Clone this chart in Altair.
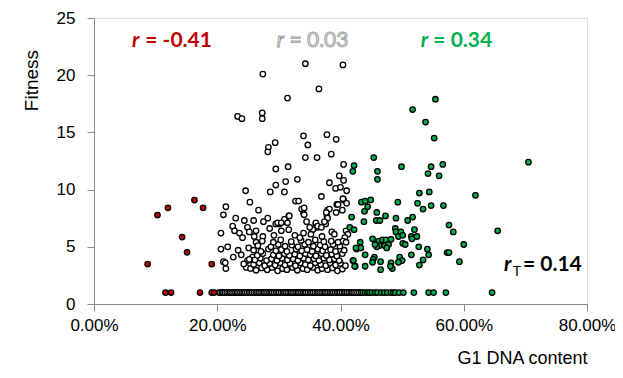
import altair as alt
import pandas as pd

FONT = "Lato"

# ---- data (x = G1 DNA content in %, y = fitness) ----
red_x = [10.3, 12.0, 16.3, 17.7, 14.3, 15.1, 8.7, 19.1, 11.6, 12.5, 17.2, 19.1, 19.5]
red_y = [7.77, 8.41, 9.08, 8.41, 5.85, 4.52, 3.49, 3.49, 1.0, 1.0, 1.0, 1.0, 1.0]

white_x = [
    34.3, 40.4, 27.4, 36.5, 31.4, 23.3, 24.0, 27.3, 27.3, 34.0, 37.8, 39.3, 34.7, 29.4, 28.3, 28.2, 38.5, 34.3, 36.2,
    29.5, 31.5, 33.0, 40.5, 39.8, 40.5, 29.5, 31.1, 30.9, 28.6, 38.2, 39.2, 40.0, 41.0, 24.6, 25.3, 26.7, 32.7, 33.2,
    33.7, 34.0, 34.1, 40.5, 41.0, 39.4, 37.9, 37.8, 39.3, 40.3, 21.4, 21.0, 23.0, 24.4, 25.9, 28.2, 27.5, 29.5, 30.1,
    31.1, 31.6, 34.5, 36.0, 37.6, 38.6, 36.3, 22.5, 22.8, 23.6, 24.1, 24.9, 25.2, 26.3, 26.0, 27.4, 26.3, 28.5, 30.4,
    31.6, 20.6, 20.6, 21.7, 23.4, 22.6, 21.0, 21.4, 21.3, 25.1, 25.7, 24.9, 24.7,
    36.9, 40.4, 39.6, 38.2, 37.7, 37.9, 37.4, 34.1, 30.9, 31.7, 29.8, 30.4, 31.4, 36.0, 36.3, 35.5, 35.0, 36.9, 40.9,
    41.2, 40.7, 40.4, 40.9,
    25.4, 26.3, 27.2, 28.1, 28.9, 29.8, 30.6, 31.3, 32.2, 33.0, 33.9, 34.6, 35.5, 36.3, 37.0, 37.9, 38.7, 39.5, 40.3,
    24.3, 25.9, 26.8, 27.7, 28.5, 29.4, 30.2, 31.0, 31.8, 32.7, 33.5, 34.3, 35.1, 35.9, 36.8, 37.6, 38.3, 39.2, 40.0, 40.8,
    25.2, 26.1, 27.0, 28.0, 28.8, 29.7, 30.5, 31.4, 32.3, 33.1, 34.0, 34.8, 35.7, 36.5, 37.3, 38.2, 39.0, 39.8,
    23.9, 26.5, 27.4, 29.1, 30.0, 30.9, 31.7, 32.6, 33.4, 34.3, 35.1, 36.0, 36.9, 37.7, 38.6, 39.4, 40.3,
    25.9, 27.1, 28.3, 29.5, 30.4, 31.3, 32.8, 33.7, 34.6, 35.4, 36.3, 37.1, 38.4, 39.2, 40.6,
    26.6, 28.7, 29.9, 31.0, 32.1, 33.1, 34.2, 35.6, 36.7, 37.5, 38.8, 39.9,
    27.3, 29.1, 30.3, 32.0, 33.6, 34.8, 35.9, 37.3, 38.5, 39.6,
    32.6, 33.4, 35.2, 29.2, 34.0, 37.0, 39.0,
]
white_y = [
    21.0, 20.9, 20.1, 18.8, 18.0, 16.4, 16.2, 16.7, 16.2, 14.7, 14.8, 14.4, 13.9, 14.1, 13.7, 13.3, 13.1, 12.8, 12.8,
    11.8, 12.0, 10.9, 12.2, 11.2, 10.8, 10.4, 10.7, 9.8, 9.8, 10.6, 10.1, 10.2, 9.9, 9.9, 8.9, 8.2, 9.0, 9.0,
    8.3, 7.9, 7.8, 9.1, 8.8, 8.7, 8.2, 7.7, 8.0, 8.2, 8.5, 7.8, 7.5, 7.3, 7.3, 7.5, 7.2, 7.0, 7.0,
    7.2, 7.7, 7.2, 7.0, 7.0, 6.3, 6.7, 6.8, 6.4, 6.2, 5.8, 6.7, 6.3, 6.4, 5.9, 5.9, 5.4, 6.6, 6.4,
    6.5, 6.2, 4.8, 5.0, 4.7, 4.1, 3.7, 3.1, 3.6, 4.9, 4.1, 3.8, 3.2,
    9.4, 9.2, 8.7, 8.3, 8.0, 7.5, 7.2, 8.4, 7.4, 7.7, 7.1, 7.1, 7.1, 7.1, 6.8, 6.5, 6.7, 6.7, 6.4,
    6.1, 5.8, 5.5, 5.4,
    3.1, 2.95, 3.15, 3.0, 3.2, 2.9, 3.1, 3.0, 3.2, 2.95, 3.1, 3.0, 3.2, 2.95, 3.1, 3.0, 3.15, 2.9, 3.05,
    3.5, 3.45, 3.6, 3.35, 3.55, 3.4, 3.6, 3.4, 3.55, 3.35, 3.6, 3.45, 3.35, 3.6, 3.45, 3.35, 3.6, 3.4, 3.55, 3.35,
    3.9, 3.85, 4.0, 3.8, 3.95, 3.8, 4.0, 3.85, 3.95, 3.8, 4.0, 3.85, 3.95, 3.8, 4.0, 3.85, 3.95, 3.8,
    4.3, 4.25, 4.4, 4.3, 4.2, 4.4, 4.25, 4.35, 4.2, 4.4, 4.3, 4.2, 4.4, 4.25, 4.35, 4.2, 4.4,
    4.7, 4.6, 4.8, 4.65, 4.75, 4.6, 4.8, 4.65, 4.75, 4.6, 4.8, 4.65, 4.75, 4.6, 4.7,
    5.1, 5.0, 5.2, 5.05, 5.15, 5.0, 5.2, 5.05, 5.15, 5.0, 5.2, 5.05,
    5.5, 5.4, 5.6, 5.45, 5.55, 5.4, 5.6, 5.45, 5.5, 5.4,
    6.0, 5.8, 6.1, 6.0, 6.2, 5.9, 6.1,
]

# strains sitting on the fitness floor (fitness = 1)
white_base_x = [
    20.3, 20.6, 20.9, 21.1, 21.4, 21.7, 22.0, 22.2, 22.5, 22.8, 23.1, 23.3, 23.6, 23.9, 24.2, 24.4, 24.7, 25.0,
    25.3, 25.5, 25.8, 26.1, 26.4, 26.6, 26.9, 27.2, 27.5, 27.7, 28.0, 28.3, 28.6, 28.8, 29.1, 29.4, 29.7, 29.9,
    30.2, 30.5, 30.8, 31.0, 31.3, 31.6, 31.9, 32.1, 32.4, 32.7, 33.0, 33.2, 33.5, 33.8, 34.1, 34.3, 34.6, 34.9,
    35.2, 35.4, 35.7, 36.0, 36.3, 36.5, 36.8, 37.1, 37.4, 37.6, 37.9, 38.2, 38.5, 38.7, 39.0, 39.3, 39.6, 39.8,
    40.1, 40.4, 40.7, 40.9, 41.2, 41.5, 41.8, 42.0, 42.3, 42.6, 42.9, 43.2,
    20.45, 20.75, 21.0, 21.25, 21.55, 21.85, 22.1, 22.35, 22.65, 22.95, 23.2, 23.45, 23.75, 24.05, 24.3, 24.55,
    24.85, 25.15, 25.4, 25.65, 25.95, 26.25, 26.5, 26.75, 27.05, 27.35, 27.6, 27.85, 28.15, 28.45, 28.7, 28.95,
    29.25, 29.55, 29.8, 30.05, 30.35, 30.65, 30.9, 31.15, 31.45, 31.75, 32.0, 32.25, 32.55, 32.85, 33.1, 33.35,
    33.65, 33.95, 34.2, 34.45, 34.75, 35.05, 35.3, 35.55, 35.85, 36.15, 36.4, 36.65, 36.95, 37.25, 37.5, 37.75,
    38.05, 38.35, 38.6, 38.85, 39.15, 39.45, 39.7, 39.95, 40.25, 40.55, 40.8, 41.05, 41.35, 41.65, 41.9, 42.15,
    42.45, 42.75, 43.05, 43.35,
]

green_x = [
    45.4, 42.2, 42.0, 46.0, 46.0, 49.9, 54.7, 54.2, 56.6, 56.0, 70.5, 61.9, 65.5, 52.8, 54.4, 52.5, 53.4, 54.7,
    56.7, 49.3, 43.4, 44.0, 44.9, 44.4, 43.9, 45.9, 47.3, 45.8, 46.4, 43.8, 41.8, 49.0, 50.9, 51.7, 57.6, 58.3,
    41.5, 42.2, 48.9, 49.0, 49.8, 49.4, 50.1, 52.0, 51.5, 52.4, 51.6, 45.2, 46.2, 46.8, 47.4, 48.2, 46.3, 47.2,
    47.8, 47.5, 45.9, 45.6, 43.2, 42.6, 43.3, 50.1, 50.5, 60.0, 52.7, 54.1, 54.3, 57.3, 57.6, 44.0, 45.5, 45.3,
    49.6, 50.0, 49.4, 51.5, 53.4, 52.8, 59.3, 42.0, 42.4, 44.0, 45.2, 46.5, 46.5, 48.2, 48.4, 48.1, 55.4, 51.7,
    53.8, 55.2, 42.5, 42.1, 42.3,
    43.6, 44.0, 44.4, 44.7, 45.1, 45.6, 46.0, 46.6, 47.1, 47.6, 48.2, 48.6, 48.9, 49.5, 50.2, 51.9, 54.3, 55.1,
    57.1, 64.6,
]
green_y = [
    12.8, 12.1, 11.6, 11.6, 10.9, 12.0, 12.0, 11.4, 12.2, 11.2, 12.4, 9.5, 6.4, 9.7, 9.8, 8.8, 8.3, 8.6,
    8.6, 8.9, 8.9, 9.0, 9.1, 8.5, 8.1, 8.0, 7.7, 7.3, 7.3, 7.2, 7.6, 7.5, 7.3, 7.6, 6.9, 6.3,
    6.7, 6.5, 6.6, 6.3, 6.3, 5.9, 6.0, 6.5, 5.9, 5.9, 5.7, 5.7, 5.5, 5.6, 5.6, 5.65, 5.1, 5.1,
    5.2, 4.9, 5.0, 5.2, 5.4, 4.8, 4.9, 5.3, 5.2, 5.2, 5.0, 4.8, 4.3, 4.5, 4.5, 4.3, 4.1, 3.9,
    4.1, 3.8, 3.65, 4.3, 3.85, 3.4, 3.7, 3.8, 3.3, 3.3, 3.65, 3.7, 3.0, 3.6, 3.1, 3.3, 17.9, 17.0,
    15.9, 14.5, 4.9, 3.8, 3.3,
    1.0, 1.0, 1.0, 1.0, 1.0, 1.0, 1.0, 1.0, 1.0, 1.0, 1.0, 1.0, 1.0, 1.0, 1.0, 1.0, 1.0, 1.0,
    1.0, 1.0,
]

# annotations
ann_r_x = [6.16, 29.67, 53.02, 66.53]
ann_r_y = [22.47, 22.47, 22.47, 2.91]
ann_r_color = ["#C00000", "#A6A6A6", "#00B050", "#000000"]
ann_eq_x = [8.32, 31.71, 55.07, 69.61]
ann_eq_text = ["= -0.41", "= 0.03", "= 0.34", "= 0.14"]
sub_x = [67.94]
sub_y = [2.45]
sub_text = ["T"]

# ---- tables ----
rows = []
for x, y in zip(white_x, white_y):
    rows.append({"x": x / 100, "y": y, "g": "mid"})
for x in white_base_x:
    rows.append({"x": x / 100, "y": 1.0, "g": "mid"})
pts_white = pd.DataFrame(rows)
pts_red = pd.DataFrame({"x": [v / 100 for v in red_x], "y": red_y, "g": "low"})
pts_green = pd.DataFrame({"x": [v / 100 for v in green_x], "y": green_y, "g": "high"})

ann = pd.DataFrame({
    "x": [v / 100 for v in ann_r_x], "y": ann_r_y, "c": ann_r_color,
    "x2": [v / 100 for v in ann_eq_x], "t": ann_eq_text,
})
ann_col = ann[ann["c"] != "#A6A6A6"]
ann_grey = ann[ann["c"] == "#A6A6A6"]
sub = pd.DataFrame({"x": [v / 100 for v in sub_x], "y": sub_y, "t": sub_text})

xscale = alt.Scale(domain=[0, 0.8], nice=False, zero=False)
yscale = alt.Scale(domain=[0, 25], nice=False)

xaxis = alt.Axis(values=[0, 0.2, 0.4, 0.6, 0.8], format=".2%", grid=False,
                 title="G1 DNA content", titleX=428, titleY=54, titleAlign="center",
                 titleBaseline="middle", titleFontSize=18, titleFontWeight="normal",
                 labelFontSize=17, labelPadding=6, tickSize=7, labelFlush=False)
yaxis = alt.Axis(values=[0, 5, 10, 15, 20, 25], grid=False, title="Fitness",
                 titleX=-63, titleY=62, titleAlign="center", titleBaseline="middle",
                 titleAngle=-90, titleFontSize=19, titleFontWeight="normal",
                 labelFontSize=17, labelPadding=12, tickSize=7)

def points(df, fill):
    return alt.Chart(df).mark_point(
        shape="circle", filled=True, size=30, fill=fill, stroke="#000000",
        strokeWidth=1.3, opacity=1,
    ).encode(
        x=alt.X("x:Q", scale=xscale, axis=xaxis),
        y=alt.Y("y:Q", scale=yscale, axis=yaxis),
    )

layer_white = points(pts_white, "#FFFFFF")
layer_red = points(pts_red, "#C00000")
layer_green = points(pts_green, "#00B050")

r_col = alt.Chart(ann_col).mark_text(
    align="left", baseline="alphabetic", font=FONT, fontSize=21,
    fontStyle="italic", fontWeight="bold",
).encode(x="x:Q", y="y:Q", text=alt.value("r"), color=alt.Color("c:N", scale=None))

eq_col = alt.Chart(ann_col).mark_text(
    align="left", baseline="alphabetic", font=FONT, fontSize=21, fontWeight="bold",
).encode(x="x2:Q", y="y:Q", text="t:N", color=alt.Color("c:N", scale=None))

r_grey = alt.Chart(ann_grey).mark_text(
    align="left", baseline="alphabetic", font=FONT, fontSize=21, fontStyle="italic",
    fill="#E6E6E6", stroke="#9A9A9A", strokeWidth=0.9,
).encode(x="x:Q", y="y:Q", text=alt.value("r"))

eq_grey = alt.Chart(ann_grey).mark_text(
    align="left", baseline="alphabetic", font=FONT, fontSize=21,
    fill="#E6E6E6", stroke="#9A9A9A", strokeWidth=0.9,
).encode(x="x2:Q", y="y:Q", text="t:N")

sub_t = alt.Chart(sub).mark_text(
    align="left", baseline="alphabetic", font=FONT, fontSize=14, color="#000000",
).encode(x="x:Q", y="y:Q", text="t:N")

chart = alt.layer(
    layer_white, layer_red, layer_green, r_col, eq_col, r_grey, eq_grey, sub_t
).properties(
    width=493, height=286,
    autosize=alt.AutoSizeParams(type="none"),
    padding={"left": 86, "top": 10, "right": 28, "bottom": 64},
).configure_view(stroke=None).configure_axis(
    domainColor="#000000", domainWidth=1.5, tickColor="#000000", tickWidth=1.5,
    labelColor="#333333", titleColor="#333333", labelFont=FONT, titleFont=FONT,
).configure(background="#FFFFFF")

chart.save("out.html", embed_options={"renderer": "svg", "actions": False})
